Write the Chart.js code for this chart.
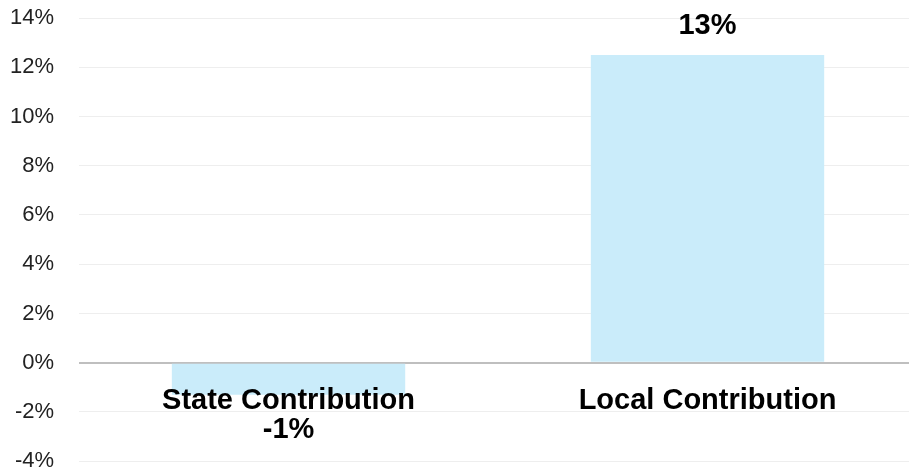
<!DOCTYPE html>
<html>
<head>
<meta charset="utf-8">
<script src="https://cdn.jsdelivr.net/npm/chart.js@4"></script>
<style>
  html, body { margin: 0; padding: 0; background: #fff; overflow: hidden; }
  #wrap { width: 917px; height: 470px; }
</style>
</head>
<body>
<div id="wrap"><canvas id="contribChart"></canvas></div>
<script>
const categories = ["State Contribution", "Local Contribution"];
const contributionValues = [-1.3, 12.5];
const yTickValues = [-4, -2, 0, 2, 4, 6, 8, 10, 12, 14];

// category names + value labels, drawn over the bars like the source
const barLabelPlugin = {
    id: "barLabels",
    afterDatasetsDraw(chart) {
        const ctx = chart.ctx;
        const meta = chart.getDatasetMeta(0);
        const zeroY = chart.scales.y.getPixelForValue(0);
        ctx.save();
        ctx.font = "bold 29px 'Liberation Sans'";
        ctx.fillStyle = "#000";
        ctx.textAlign = "center";
        ctx.textBaseline = "alphabetic";
        meta.data.forEach((bar, i) => {
            ctx.fillText(categories[i], bar.x, zeroY + 46);
            const v = contributionValues[i];
            const y = v >= 0 ? bar.y - 21 : bar.y + 43;
            ctx.fillText(Math.round(v) + "%", bar.x, y);
        });
        ctx.restore();
    }
};

const ctx = document.getElementById("contribChart").getContext("2d");
new Chart(ctx, {
    type: "bar",
    data: {
        labels: categories,
        datasets: [{
            data: contributionValues,
            backgroundColor: "#caecfa",
            borderWidth: 0,
            barPercentage: 0.557,
            categoryPercentage: 1
        }]
    },
    options: {
        responsive: true,
        maintainAspectRatio: false,
        animation: false,
        layout: { padding: { left: 10, right: 0, top: 18, bottom: 1 } },
        plugins: {
            legend: { display: false },
            tooltip: { enabled: false }
        },
        scales: {
            x: { display: false },
            y: {
                min: -4,
                max: 14,
                afterBuildTicks: axis => {
                    axis.ticks = yTickValues.map(v => ({ value: v }));
                },
                grid: {
                    color: c => c.tick.value === 0 ? "#bfbfbf" : "#eeeeee",
                    lineWidth: c => c.tick.value === 0 ? 2 : 1,
                    tickColor: "rgba(0,0,0,0)",
                    tickLength: 25
                },
                border: { display: false },
                ticks: {
                    color: "#222",
                    padding: 0,
                    font: { family: "Liberation Sans", size: 22, lineHeight: 0.8 },
                    callback: v => v + "%"
                }
            }
        }
    },
    plugins: [barLabelPlugin]
});
</script>
</body>
</html>
